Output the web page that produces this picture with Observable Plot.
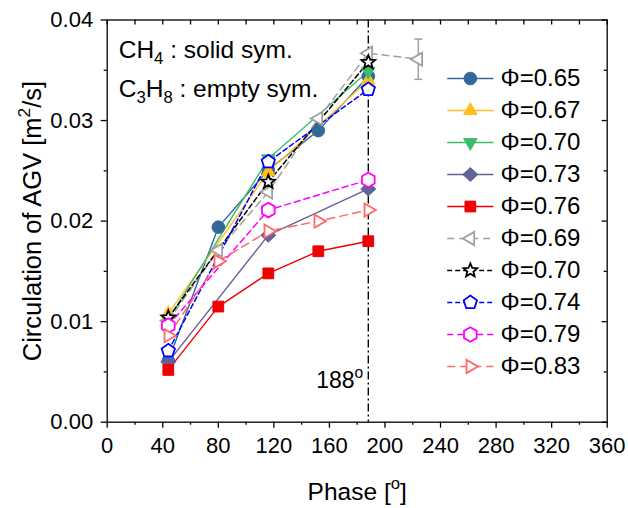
<!DOCTYPE html>
<html><head><meta charset="utf-8">
<script src="https://cdn.jsdelivr.net/npm/d3@7"></script>
<script src="https://cdn.jsdelivr.net/npm/@observablehq/plot@0.6"></script>
<style>
html,body{margin:0;padding:0;background:#fff;}
#wrap{position:relative;width:628px;height:508px;font-family:"Liberation Sans",Arial,sans-serif;}
#legend{position:absolute;left:430px;top:60px;}
</style></head><body><div id="wrap"></div><div id="legend"></div>
<script>
// ---------- data ----------
const legendLabels = ["Φ=0.65","Φ=0.67","Φ=0.70","Φ=0.73","Φ=0.76","Φ=0.69","Φ=0.70","Φ=0.74","Φ=0.79","Φ=0.83"];
const ph065 = [44, 80, 116, 152, 188];
const phi065 = [0.0061, 0.0194, 0.0251, 0.0290, 0.0344];
const ph067 = [44, 116, 188];
const phi067 = [0.0108, 0.0249, 0.0340];
const ph070s = [44, 116, 188];
const phi070s = [0.0102, 0.0262, 0.0349];
const ph073 = [44, 116, 188];
const phi073 = [0.0060, 0.0186, 0.0232];
const ph076 = [44, 80, 116, 152, 188];
const phi076 = [0.0052, 0.0115, 0.0148, 0.0170, 0.0180];
const ph069 = [44, 80, 116, 152, 188, 224];
const phi069 = [0.0101, 0.0171, 0.0229, 0.0302, 0.0367, 0.0361];
const err069 = [0, 0, 0, 0, 0, 0.0020];
const ph070d = [44, 116, 188];
const phi070d = [0.0104, 0.0239, 0.0358];
const ph074 = [44, 116, 188];
const phi074 = [0.0071, 0.0259, 0.0331];
const ph079 = [44, 116, 188];
const phi079 = [0.0096, 0.0211, 0.0241];
const ph083 = [44, 80, 116, 152, 188];
const phi083 = [0.0086, 0.0160, 0.0190, 0.0200, 0.0211];
const markPhase = [188];
const xMajor = [0, 40, 80, 120, 160, 200, 240, 280, 320, 360];
const xMinor = [20, 60, 100, 140, 180, 220, 260, 300, 340];
const yMajor = [0, 0.01, 0.02, 0.03, 0.04];
const yMinor = [0.005, 0.015, 0.025, 0.035];

// ---------- symbols ----------
function poly(n, R, rot) {
  return {draw(ctx) {
    for (let i = 0; i < n; i++) {
      const a = rot + 2 * Math.PI * i / n;
      const x = R * Math.sin(a), y = -R * Math.cos(a);
      i ? ctx.lineTo(x, y) : ctx.moveTo(x, y);
    }
    ctx.closePath();
  }};
}
const symCircle = {draw(ctx) { ctx.moveTo(6.3, 0); ctx.arc(0, 0, 6.3, 0, 2 * Math.PI); }};
const symTriUp = poly(3, 7.8, 0);
const symTriDown = poly(3, 7.8, Math.PI);
const symTriLeft = poly(3, 7.6, -Math.PI / 2);
const symTriRight = poly(3, 7.6, Math.PI / 2);
const symSquare = poly(4, 7.6, Math.PI / 4);
const symDiamond = {draw(ctx) { ctx.moveTo(0, -7); ctx.lineTo(7.5, 0); ctx.lineTo(0, 7); ctx.lineTo(-7.5, 0); ctx.closePath(); }};
const symPent = poly(5, 7, 0);
const symHex = poly(6, 7.3, 0);
const symStar = {draw(ctx) {
  for (let i = 0; i < 10; i++) {
    const R = i % 2 ? 3.2 : 7.2, a = Math.PI * i / 5;
    const x = R * Math.sin(a), y = -R * Math.cos(a);
    i ? ctx.lineTo(x, y) : ctx.moveTo(x, y);
  }
  ctx.closePath();
}};
const symCap = {draw(ctx) { ctx.moveTo(-4, 0); ctx.lineTo(4, 0); }};

// ---------- series styling ----------
const series = [
  {ph: ph065, v: phi065, color: "#34679A", dash: null, sym: symCircle, filled: true},
  {ph: ph067, v: phi067, color: "#FFC01E", dash: null, sym: symTriUp, filled: true},
  {ph: ph070s, v: phi070s, color: "#3DBB6D", dash: null, sym: symTriDown, filled: true},
  {ph: ph073, v: phi073, color: "#62629A", dash: null, sym: symDiamond, filled: true},
  {ph: ph076, v: phi076, color: "#F00000", dash: null, sym: symSquare, filled: true},
  {ph: ph069, v: phi069, color: "#A0A0A0", dash: "7,5", sym: symTriLeft, filled: false, err: err069},
  {ph: ph070d, v: phi070d, color: "#000000", dash: "5,3", sym: symStar, filled: false},
  {ph: ph074, v: phi074, color: "#0000FF", dash: "5,3", sym: symPent, filled: false},
  {ph: ph079, v: phi079, color: "#FF00FF", dash: "6,4", sym: symHex, filled: false},
  {ph: ph083, v: phi083, color: "#FF6868", dash: "8,5", sym: symTriRight, filled: false}
];
series.forEach((s, i) => {
  s.label = legendLabels[i];
  s.rows = s.ph.map((p, j) => ({x: p, y: s.v[j], e: s.err ? s.err[j] : 0}));
});

const W = 628, H = 508;
const ML = 106.7, MR = 21.3, MT = 19.5, MB = 86.3;
const FW = W - ML - MR, FH = H - MT - MB;
const FONT = "Liberation Sans, Arial, sans-serif";

const marks = [
  Plot.frame({stroke: "black", strokeWidth: 1.3}),
  Plot.axisX({ticks: xMajor, tickSize: 6, tickPadding: 9, label: null, fontSize: 22, strokeWidth: 1.3, tickFormat: d => String(d)}),
  Plot.axisX({ticks: xMinor, tickSize: 3, label: null, strokeWidth: 1.3, tickFormat: () => ""}),
  Plot.axisY({ticks: yMajor, tickSize: 6, tickPadding: 8, label: null, fontSize: 22, strokeWidth: 1.3, tickFormat: d3.format(".2f")}),
  Plot.axisY({ticks: yMinor, tickSize: 3, label: null, strokeWidth: 1.3, tickFormat: () => ""}),
  Plot.tickX(xMajor.concat(xMinor), {x: d => d, insetBottom: FH - 5, stroke: "black", strokeWidth: 1.3}),
  Plot.tickY(yMajor, {y: d => d, insetLeft: FW - 5, stroke: "black", strokeWidth: 1.3}),
  Plot.tickY(yMinor, {y: d => d, insetLeft: FW - 3, stroke: "black", strokeWidth: 1.3}),
  Plot.ruleX(markPhase, {x: d => d, stroke: "black", strokeWidth: 1.4, strokeDasharray: "8,3,2,3"})
];
for (const s of series) {
  marks.push(Plot.line(s.rows, {x: "x", y: "y", stroke: s.color, strokeWidth: s.dash ? 1.5 : 1.4, strokeDasharray: s.dash || undefined}));
}
for (const s of series) {
  if (s.err) {
    const er = s.rows.filter(d => d.e > 0);
    marks.push(Plot.ruleX(er, {x: "x", y1: d => d.y - d.e, y2: d => d.y + d.e, stroke: s.color, strokeWidth: 1.5}));
    marks.push(Plot.dot(er, {x: "x", y: d => d.y - d.e, symbol: symCap, stroke: s.color, strokeWidth: 1.5, fill: "none"}));
    marks.push(Plot.dot(er, {x: "x", y: d => d.y + d.e, symbol: symCap, stroke: s.color, strokeWidth: 1.5, fill: "none"}));
  }
}
for (const s of series) {
  marks.push(Plot.dot(s.rows, {x: "x", y: "y", symbol: s.sym, fill: s.filled ? s.color : "white",
    stroke: s.color, strokeWidth: s.filled ? 1 : 1.8}));
}
marks.push(
  Plot.text(["CH4 : solid sym."], {frameAnchor: "top-left", dx: 11.5, dy: 37.5, textAnchor: "start", lineAnchor: "bottom", fontSize: 24.5}),
  Plot.text(["C3H8 : empty sym."], {frameAnchor: "top-left", dx: 11.5, dy: 76.5, textAnchor: "start", lineAnchor: "bottom", fontSize: 24.5}),
  Plot.text(markPhase, {x: d => d, frameAnchor: "bottom", dy: -34.7, dx: -5, textAnchor: "end", lineAnchor: "bottom", fontSize: 23, text: d => d + "o"}),
  Plot.text(["Phase [o]"], {frameAnchor: "bottom", dy: 77.3, textAnchor: "middle", lineAnchor: "bottom", fontSize: 24.5}),
  Plot.text(["Circulation of AGV [m2/s]"], {frameAnchor: "left", rotate: -90, dx: -66, textAnchor: "middle", lineAnchor: "bottom", fontSize: 25.5})
);

const svg = Plot.plot({
  width: W, height: H,
  marginLeft: ML, marginRight: MR, marginTop: MT, marginBottom: MB,
  x: {domain: [0, 360]},
  y: {domain: [0, 0.04]},
  style: {fontFamily: FONT, fontSize: "22px", background: "white", color: "black", overflow: "visible"},
  marks
});

function rich(root, match, parts, fs) {
  root.querySelectorAll("text").forEach(t => {
    if (t.textContent !== match) return;
    while (t.firstChild) t.removeChild(t.firstChild);
    let shift = 0;
    for (const [str, kind] of parts) {
      const ts = document.createElementNS("http://www.w3.org/2000/svg", "tspan");
      const target = kind === 1 ? 0.28 * fs : kind === -1 ? -0.42 * fs : 0;
      const d = target - shift;
      if (d) ts.setAttribute("dy", d.toFixed(2));
      shift = target;
      if (kind) ts.setAttribute("font-size", (0.68 * fs).toFixed(1));
      ts.textContent = str;
      t.appendChild(ts);
    }
  });
}
rich(svg, "CH4 : solid sym.", [["CH", 0], ["4", 1], [" : solid sym.", 0]], 24.5);
rich(svg, "C3H8 : empty sym.", [["C", 0], ["3", 1], ["H", 0], ["8", 1], [" : empty sym.", 0]], 24.5);
rich(svg, "188o", [["188", 0], ["o", -1]], 23);
rich(svg, "Phase [o]", [["Phase [", 0], ["o", -1], ["]", 0]], 24.5);
rich(svg, "Circulation of AGV [m2/s]", [["Circulation of AGV [m", 0], ["2", -1], ["/s]", 0]], 25.5);
document.getElementById("wrap").appendChild(svg);

// ---------- legend ----------
const idx = d3.range(legendLabels.length);
const lmarks = [];
for (const i of idx) {
  const s = series[i];
  lmarks.push(Plot.link([i], {x1: () => 0, x2: () => 1, y1: d => d, y2: d => d, stroke: s.color, strokeWidth: 1.5, strokeDasharray: s.dash || undefined}));
  lmarks.push(Plot.dot([i], {x: () => 0.5, y: d => d, symbol: s.sym, fill: s.filled ? s.color : "white", stroke: s.color, strokeWidth: s.filled ? 1 : 1.8}));
  lmarks.push(Plot.text([i], {x: () => 1, y: d => d, text: d => legendLabels[d], dx: 7, textAnchor: "start", fontSize: 24}));
}
const legend = Plot.plot({
  width: 190, height: 330,
  marginTop: 16, marginBottom: 22, marginLeft: 16.7, marginRight: 127,
  x: {domain: [0, 1], axis: null},
  y: {type: "point", domain: idx, padding: 0, axis: null},
  style: {fontFamily: FONT, fontSize: "24px", background: "transparent", color: "black", overflow: "visible"},
  marks: lmarks
});
const lw = document.getElementById("legend");
lw.appendChild(legend);
document.getElementById("wrap").appendChild(lw);
</script></body></html>
